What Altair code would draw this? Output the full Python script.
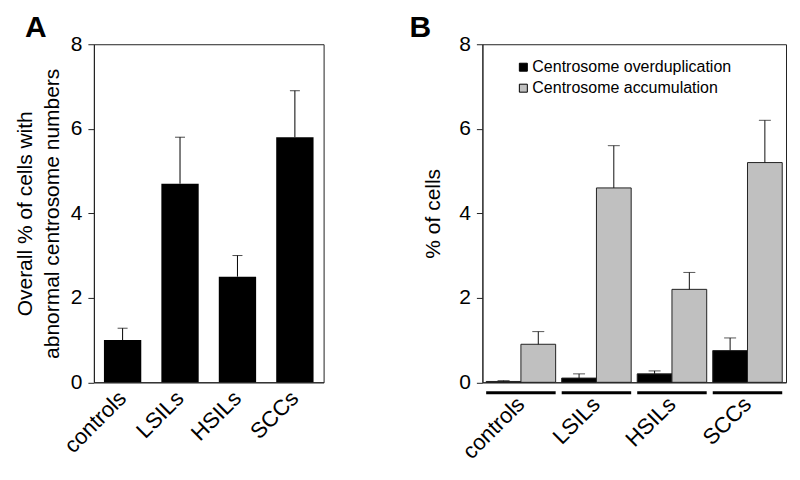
import altair as alt
import pandas as pd

categories = ["controls", "LSILs", "HSILs", "SCCs"]

# Panel A
a_values = [1.0, 4.7, 2.5, 5.8]
a_errors = [0.28, 1.1, 0.5, 1.1]

# Panel B
series_names = ["Centrosome overduplication", "Centrosome accumulation"]
b_overdup = [0.02, 0.1, 0.2, 0.75]
b_overdup_err = [0.02, 0.1, 0.07, 0.3]
b_accum = [0.9, 4.6, 2.2, 5.2]
b_accum_err = [0.3, 1.0, 0.4, 1.0]

FONT = "Liberation Sans"

dfa = pd.DataFrame({"cat": categories, "val": a_values, "err": a_errors})
dfa["upper"] = dfa["val"] + dfa["err"]

rows = []
for i, c in enumerate(categories):
    rows.append({"cat": c, "series": series_names[0], "val": b_overdup[i], "err": b_overdup_err[i]})
    rows.append({"cat": c, "series": series_names[1], "val": b_accum[i], "err": b_accum_err[i]})
dfb = pd.DataFrame(rows)
dfb["upper"] = dfb["val"] + dfb["err"]
dfcat = pd.DataFrame({"cat": categories})

yaxis_common = dict(values=[0, 2, 4, 6, 8], grid=False, labelFontSize=21, tickSize=6,
                    labelPadding=6, domainColor="#222", tickColor="#222",
                    labelColor="black", titleFontSize=21, titleFontWeight="normal",
                    titleColor="black")

H = 338.5

# ---------- Panel A ----------
xA = alt.X("cat:N", sort=categories,
           scale=alt.Scale(paddingInner=0.35, paddingOuter=0.175),
           axis=alt.Axis(title=None, ticks=False, labelAngle=-45, labelAlign="right",
                         labelBaseline="middle", labelFontSize=22, labelPadding=12,
                         domainColor="#222", labelColor="black"))
yA = alt.Y("val:Q", scale=alt.Scale(domain=[0, 8], nice=False),
           axis=alt.Axis(title=["Overall % of cells with", "abnormal centrosome numbers"],
                         titlePadding=8, titleLineHeight=27, **yaxis_common))

barsA = alt.Chart(dfa).mark_bar(color="black").encode(x=xA, y=yA)
errA = alt.Chart(dfa).mark_rule(color="black", strokeWidth=1).encode(
    x=alt.X("cat:N", sort=categories), y="val:Q", y2="upper:Q")
capA = alt.Chart(dfa).mark_tick(color="black", size=10, thickness=1).encode(
    x=alt.X("cat:N", sort=categories), y="upper:Q")

panelA = alt.layer(barsA, errA, capA).properties(
    width=230, height=H,
    title=alt.TitleParams("A", anchor="start", frame="group", dx=-69, dy=-1, fontSize=30,
                          fontWeight="bold", offset=-11, font=FONT, color="black"))

# ---------- Panel B ----------
xB = alt.X("cat:N", sort=categories,
           scale=alt.Scale(paddingInner=0.08, paddingOuter=0.05),
           axis=alt.Axis(title=None, ticks=False, labelAngle=-45, labelAlign="right",
                         labelBaseline="middle", labelFontSize=22, labelPadding=18,
                         domainColor="#222", labelColor="black"))
yB = alt.Y("val:Q", scale=alt.Scale(domain=[0, 8], nice=False),
           axis=alt.Axis(title="% of cells", titlePadding=15, **yaxis_common))
xoff = alt.XOffset("series:N", sort=series_names,
                   scale=alt.Scale(paddingInner=0, paddingOuter=0))
colorB = alt.Color("series:N", sort=series_names,
                   scale=alt.Scale(domain=series_names, range=["black", "#c0c0c0"]),
                   legend=alt.Legend(title=None, orient="none", legendX=33, legendY=15,
                                     symbolType="square", symbolSize=64,
                                     symbolStrokeColor="black", symbolStrokeWidth=1,
                                     labelFontSize=16, labelOffset=1, rowPadding=5,
                                     labelLimit=0, padding=0, labelColor="black",
                                     labelFont=FONT))

barsB = alt.Chart(dfb).mark_bar(stroke="#222", strokeWidth=1).encode(
    x=xB, xOffset=xoff, y=yB, color=colorB)
errB = alt.Chart(dfb).mark_rule(color="#111", strokeWidth=1).encode(
    x=alt.X("cat:N", sort=categories), xOffset=xoff, y="val:Q", y2="upper:Q")
capB = alt.Chart(dfb).mark_tick(color="#111", size=12, thickness=1).encode(
    x=alt.X("cat:N", sort=categories), xOffset=xoff, y="upper:Q")
bracket = alt.Chart(dfcat).mark_rect(color="black").encode(
    x=alt.X("cat:N", sort=categories), y=alt.value(H + 9), y2=alt.value(H + 12))

panelB = alt.layer(barsB, errB, capB, bracket).properties(
    width=304, height=H,
    title=alt.TitleParams("B", anchor="start", frame="group", dx=-73, dy=-1, fontSize=30,
                          fontWeight="bold", offset=-11, font=FONT, color="black"))

chart = alt.hconcat(panelA, panelB, spacing=84).resolve_legend(
    color="independent"
).properties(
    padding={"left": 5, "top": 4, "right": 5, "bottom": 0}
).configure(font=FONT).configure_view(stroke="#222", strokeWidth=1).configure_axis(
    labelFont=FONT, titleFont=FONT)

chart.save("out.html", embed_options={"renderer": "svg", "actions": False})
